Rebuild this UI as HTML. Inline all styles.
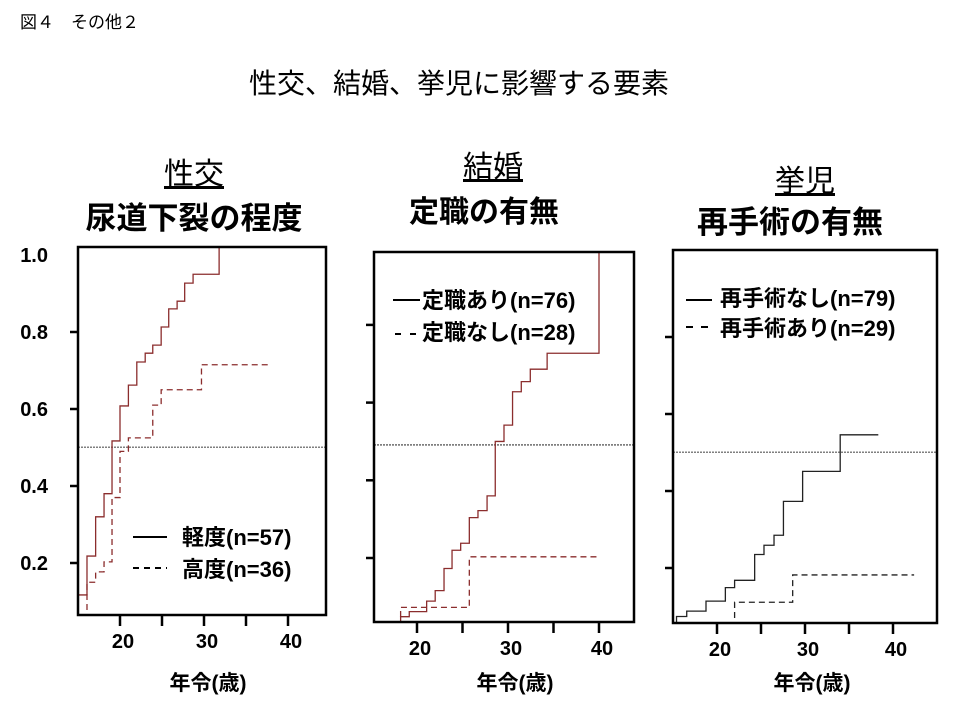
<!DOCTYPE html>
<html><head><meta charset="utf-8">
<style>
body{margin:0;background:#fff;}
svg{display:block;font-family:"Liberation Sans","Noto Sans CJK JP",sans-serif;}
</style></head>
<body>
<svg id="chart" width="960" height="720" viewBox="0 0 960 720">
<text x="20" y="28" font-size="17">図４　その他２</text>
<text x="459" y="93" font-size="28" text-anchor="middle">性交、結婚、挙児に影響する要素</text>
<text x="194" y="184" font-size="30" text-anchor="middle" text-decoration="underline">性交</text>
<text x="194" y="229" font-size="31" font-weight="bold" text-anchor="middle">尿道下裂の程度</text>
<text x="493" y="177" font-size="30" text-anchor="middle" text-decoration="underline">結婚</text>
<text x="484" y="222" font-size="30" font-weight="bold" text-anchor="middle">定職の有無</text>
<text x="805" y="191" font-size="30" text-anchor="middle" text-decoration="underline">挙児</text>
<text x="790" y="233" font-size="31" font-weight="bold" text-anchor="middle">再手術の有無</text>
</svg>
<script>
// Panel 1: 尿道下裂の程度
const p1SolidAges = [15, 16.07, 17.1, 18.1, 19.05, 20, 21, 22, 23, 23.9, 24.9, 25.8, 26.8, 27.7, 28.7, 31.8];
const p1SolidVals = [0.117, 0.218, 0.32, 0.38, 0.517, 0.608, 0.662, 0.722, 0.745, 0.766, 0.813, 0.86, 0.88, 0.927, 0.95, 1.05];
const p1SolidEnd = 31.8;
const p1DashAges = [16.07, 17.1, 18.1, 19.05, 20, 21, 23.9, 24.9, 29.7];
const p1DashVals = [0.15, 0.177, 0.203, 0.37, 0.49, 0.525, 0.61, 0.65, 0.715];
const p1DashEnd = 37.6;
const p1Median = 0.501;
// Panel 2: 定職の有無
const p2SolidAges = [18.2, 19.15, 21.06, 22.0, 22.97, 23.85, 24.8, 25.75, 26.7, 27.7, 28.6, 29.56, 30.5, 31.46, 32.45, 34.3, 40.0];
const p2SolidVals = [0.049, 0.062, 0.089, 0.116, 0.173, 0.22, 0.238, 0.304, 0.322, 0.36, 0.50, 0.542, 0.628, 0.654, 0.686, 0.727, 1.05];
const p2SolidEnd = 40.0;
const p2DashAges = [18.2, 25.75];
const p2DashVals = [0.073, 0.203];
const p2DashEnd = 40.0;
const p2Median = 0.491;
// Panel 3: 再手術の有無
const p3SolidAges = [15.4, 16.56, 18.75, 20.95, 22.0, 24.28, 25.34, 26.48, 27.55, 29.73, 34.0];
const p3SolidVals = [0.074, 0.088, 0.114, 0.149, 0.168, 0.235, 0.259, 0.285, 0.373, 0.451, 0.546];
const p3SolidEnd = 38.33;
const p3DashAges = [22.0, 28.6];
const p3DashVals = [0.111, 0.182];
const p3DashEnd = 42.4;
const p3Median = 0.501;
const yTicks = [0.2, 0.4, 0.6, 0.8];
const yTickLabels = ["0.2", "0.4", "0.6", "0.8", "1.0"];
const yLabelVals = [0.2, 0.4, 0.6, 0.8, 1.0];
const xTicks = [20, 25, 30, 35, 40];
const xTickLabels = ["20", "30", "40"];
const xLabelVals = [20, 30, 40];

const NS = "http://www.w3.org/2000/svg";
const svg = document.getElementById("chart");
function mk(tag, attrs, parent){const e=document.createElementNS(NS,tag);for(const k in attrs)e.setAttribute(k,attrs[k]);(parent||svg).appendChild(e);return e;}

function panel(cfg){
  const g = mk("g",{});
  
  
  const xs = a => cfg.x20 + (a - 20) * cfg.pxPerYear;
  const ys = v => cfg.y02 - (v - 0.2) * cfg.pxPerUnit;
  const cid = cfg.name + "-clip";
  const defs = mk("defs",{},g);
  const cp = mk("clipPath",{id:cid},defs);
  mk("rect",{x:cfg.L,y:cfg.T,width:cfg.R-cfg.L,height:cfg.B-cfg.T},cp);
  const plot = mk("g",{"clip-path":"url(#"+cid+")"},g);
  const med = mk("line",{x1:cfg.L,x2:cfg.R,y1:ys(cfg.median),y2:ys(cfg.median),stroke:"#000","stroke-width":0.8,"stroke-dasharray":"2,1"},plot);
  
  
  function step(ages, vals, end, fromBottom, dash, nm){
    let d = fromBottom ? "M"+xs(ages[0])+","+(cfg.B+5) : "M"+cfg.L+","+ys(vals[0]);
    for(let i=0;i<ages.length;i++){
      const prevY = i===0 ? (fromBottom ? cfg.B+5 : ys(vals[0])) : ys(vals[i-1]);
      d += " L"+xs(ages[i])+","+prevY+" L"+xs(ages[i])+","+ys(vals[i]);
    }
    d += " L"+xs(end)+","+ys(vals[vals.length-1]);
    const p = mk("path",{d:d,fill:"none",stroke:cfg.color,"stroke-width":1.3},plot);
    if(dash) p.setAttribute("stroke-dasharray","6,4");
    
    
  }
  step(cfg.sA, cfg.sV, cfg.sE, cfg.solidFromBottom, false, "solid-curve");
  step(cfg.dA, cfg.dV, cfg.dE, true, true, "dashed-curve");
  const box = mk("rect",{x:cfg.L,y:cfg.T,width:cfg.R-cfg.L,height:cfg.B-cfg.T,fill:"none",stroke:"#000","stroke-width":2.5},g);
  
  
  yTicks.forEach(v=>{
    const t = mk("line",{x1:cfg.L-8,x2:cfg.L,y1:ys(v),y2:ys(v),stroke:"#000","stroke-width":2.5},g);
    
    
  });
  xTicks.forEach(a=>{
    const t = mk("line",{x1:xs(a),x2:xs(a),y1:cfg.B,y2:cfg.B+11,stroke:"#000","stroke-width":2.5},g);
    
    
  });
  xLabelVals.forEach((a,i)=>{
    const t = mk("text",{x:xs(a)+3,y:cfg.B+33,"font-size":20,"font-weight":"bold","text-anchor":"middle"},g);
    t.textContent = xTickLabels[i];
    
    
  });
  const xt = mk("text",{x:cfg.xTitleX,y:690,"font-size":21,"font-weight":"bold","text-anchor":"middle"},g);
  xt.textContent = "年令(歳)";
  
  
  if(cfg.yLabels){
    yLabelVals.forEach((v,i)=>{
      const t = mk("text",{x:48,y:ys(v)+7,"font-size":20,"font-weight":"bold","text-anchor":"end"},g);
      t.textContent = yTickLabels[i];
      
      
    });
  }
  cfg.legend.forEach(lg=>{
    const l = mk("line",{x1:lg.x1,x2:lg.x2,y1:lg.ly,y2:lg.ly,stroke:"#000","stroke-width":2},g);
    if(lg.dash) l.setAttribute("stroke-dasharray",lg.dash);
    
    
    const t = mk("text",{x:lg.tx,y:lg.ty,"font-size":22,"font-weight":"bold"},g);
    t.textContent = lg.text;
    
    
  });
}

panel({name:"panel-hypospadias",L:78,R:326,T:247,B:615,x20:120,pxPerYear:8.4,y02:563,pxPerUnit:385,color:"#8b2d2d",
  sA:p1SolidAges,sV:p1SolidVals,sE:p1SolidEnd,solidFromBottom:false,dA:p1DashAges,dV:p1DashVals,dE:p1DashEnd,median:p1Median,
  xTitleX:208,yLabels:true,
  legend:[{x1:133,x2:167,ly:537,tx:182,ty:545,text:"軽度(n=57)"},{x1:133,x2:167,ly:568,tx:182,ty:577,text:"高度(n=36)",dash:"6,5"}]});
panel({name:"panel-employment",L:374,R:634,T:252,B:622,x20:417,pxPerYear:9.1,y02:558,pxPerUnit:388.5,color:"#8b2d2d",
  sA:p2SolidAges,sV:p2SolidVals,sE:p2SolidEnd,solidFromBottom:true,dA:p2DashAges,dV:p2DashVals,dE:p2DashEnd,median:p2Median,
  xTitleX:515,yLabels:false,
  legend:[{x1:393,x2:420,ly:300,tx:422,ty:308,text:"定職あり(n=76)"},{x1:395,x2:420,ly:334,tx:422,ty:340,text:"定職なし(n=28)",dash:"6,9"}]});
panel({name:"panel-reoperation",L:673,R:937,T:250,B:623,x20:717,pxPerYear:8.8,y02:568,pxPerUnit:385,color:"#222",
  sA:p3SolidAges,sV:p3SolidVals,sE:p3SolidEnd,solidFromBottom:true,dA:p3DashAges,dV:p3DashVals,dE:p3DashEnd,median:p3Median,
  xTitleX:812,yLabels:false,
  legend:[{x1:686,x2:712,ly:300,tx:720,ty:306,text:"再手術なし(n=79)"},{x1:686,x2:712,ly:327,tx:720,ty:336,text:"再手術あり(n=29)",dash:"7,8"}]});
</script>
</body></html>
